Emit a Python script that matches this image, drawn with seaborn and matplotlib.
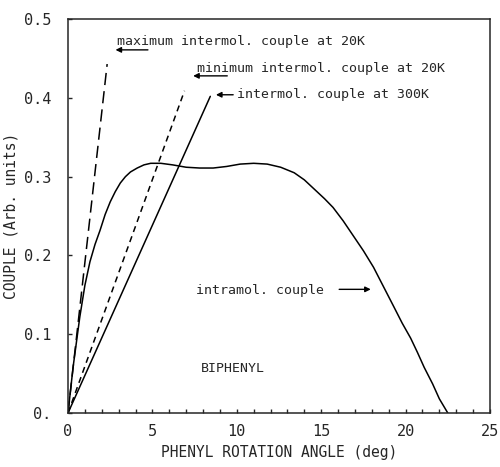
import matplotlib
matplotlib.use("Agg")
import matplotlib.pyplot as plt
import seaborn as sns
import pandas as pd

# ---- data ----
intra_x = [0, 0.3, 0.7, 1.0, 1.3, 1.6, 1.9, 2.2, 2.5, 2.8, 3.1, 3.4, 3.7, 4.1,
           4.5, 4.9, 5.5, 6.2, 7.0, 7.8, 8.6, 9.4, 10.2, 11.0, 11.8, 12.6,
           13.4, 14.0, 14.6, 15.2, 15.7, 16.3, 16.9, 17.5, 18.1, 18.7, 19.3,
           19.8, 20.3, 20.7, 21.1, 21.6, 22.0, 22.5]
intra_y = [0, 0.058, 0.122, 0.162, 0.192, 0.214, 0.232, 0.252, 0.268, 0.281,
           0.292, 0.300, 0.306, 0.311, 0.315, 0.317, 0.317, 0.315, 0.312,
           0.311, 0.311, 0.313, 0.316, 0.317, 0.316, 0.312, 0.305, 0.296,
           0.284, 0.272, 0.261, 0.244, 0.225, 0.206, 0.185, 0.160, 0.135,
           0.114, 0.095, 0.077, 0.058, 0.037, 0.018, 0.0]
max20_x = [0, 2.32]
max20_y = [0, 0.443]
min20_x = [0, 6.9]
min20_y = [0, 0.409]
k300_x = [0, 8.43]
k300_y = [0, 0.402]

x_ticks = [0, 5, 10, 15, 20, 25]
y_ticks = [0, 0.1, 0.2, 0.3, 0.4, 0.5]
y_tick_labels = ["0.", "0.1", "0.2", "0.3", "0.4", "0.5"]

sns.set_style("ticks")
FONT = ["DejaVu Sans Mono"]
plt.rcParams["font.family"] = FONT

fig = plt.figure(figsize=(5.0, 4.67), dpi=100)
ax = fig.add_axes([0.136, 0.1156, 0.844, 0.8434])

lw = 1.1
sns.lineplot(x=intra_x, y=intra_y, ax=ax, color="black", lw=lw, sort=False)
sns.lineplot(x=max20_x, y=max20_y, ax=ax, color="black", lw=lw)
sns.lineplot(x=min20_x, y=min20_y, ax=ax, color="black", lw=lw)
sns.lineplot(x=k300_x, y=k300_y, ax=ax, color="black", lw=lw)
ax.lines[1].set_dashes([8, 4])
ax.lines[2].set_dashes([4, 3])

ax.set_xlim(0, 25)
ax.set_ylim(0, 0.5)
ax.set_xticks(x_ticks)
ax.set_xticks(range(0, 26), minor=True)
ax.set_yticks(y_ticks)
ax.set_yticklabels(y_tick_labels)
ax.tick_params(axis="x", which="both", direction="in", length=3, width=1,
               labelsize=11, pad=8)
ax.tick_params(axis="y", which="both", direction="in", length=3, width=1,
               labelsize=11, pad=12)
for s in ax.spines.values():
    s.set_linewidth(1.1)
    s.set_visible(True)

ax.set_xlabel("PHENYL ROTATION ANGLE (deg)", fontsize=10.5, labelpad=4)
ax.set_ylabel("COUPLE (Arb. units)", fontsize=10.5, labelpad=4)

fs = 9.5
ax.text(2.9, 0.472, "maximum intermol. couple at 20K", fontsize=fs,
        ha="left", va="center")
ax.annotate("", xy=(2.65, 0.461), xytext=(4.9, 0.461),
            arrowprops=dict(arrowstyle="-|>", color="black", lw=1,
                            mutation_scale=8))
ax.text(7.65, 0.437, "minimum intermol. couple at 20K", fontsize=fs,
        ha="left", va="center")
ax.annotate("", xy=(7.25, 0.428), xytext=(9.6, 0.428),
            arrowprops=dict(arrowstyle="-|>", color="black", lw=1,
                            mutation_scale=8))
ax.text(10.0, 0.404, "intermol. couple at 300K", fontsize=fs,
        ha="left", va="center")
ax.annotate("", xy=(8.6, 0.404), xytext=(9.95, 0.404),
            arrowprops=dict(arrowstyle="-|>", color="black", lw=1,
                            mutation_scale=8))
ax.text(7.6, 0.156, "intramol. couple", fontsize=fs, ha="left", va="center")
ax.annotate("", xy=(18.1, 0.157), xytext=(15.9, 0.157),
            arrowprops=dict(arrowstyle="-|>", color="black", lw=1,
                            mutation_scale=8))
ax.text(7.85, 0.057, "BIPHENYL", fontsize=fs, ha="left", va="center")

fig.savefig("out.png", dpi=100)
